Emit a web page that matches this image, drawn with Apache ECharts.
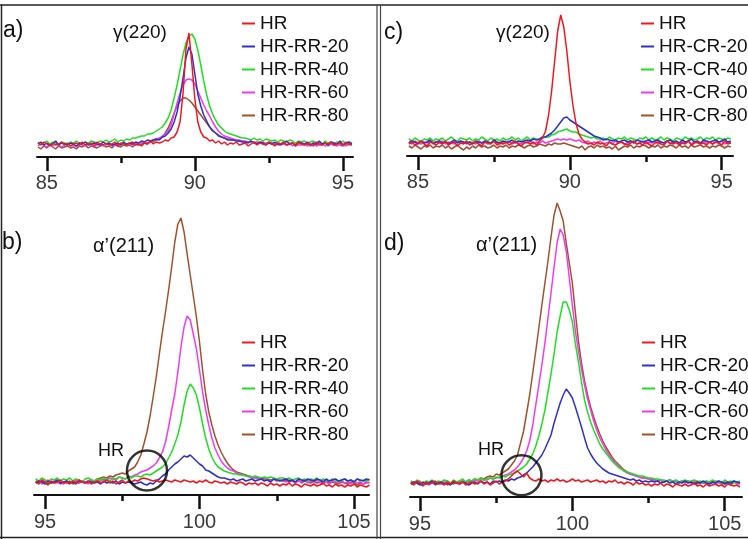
<!DOCTYPE html>
<html>
<head>
<meta charset="utf-8">
<script src="https://cdn.jsdelivr.net/npm/echarts@6/dist/echarts.min.js"></script>
<style>html,body{margin:0;padding:0;background:#fff}#c{width:748px;height:539px}</style>
</head>
<body>
<div id="c"></div>
<script>
// ---- x positions (2theta, degrees) ----
const xTop = [84.7,84.8,84.9,85.0,85.1,85.2,85.3,85.4,85.5,85.6,85.7,85.8,85.9,86.0,86.1,86.2,86.3,86.4,86.5,86.6,86.7,86.8,86.9,87.0,87.1,87.2,87.3,87.4,87.5,87.6,87.7,87.8,87.9,88.0,88.1,88.2,88.3,88.4,88.5,88.6,88.7,88.8,88.9,89.0,89.1,89.2,89.3,89.4,89.5,89.6,89.7,89.8,89.9,90.0,90.1,90.2,90.3,90.4,90.5,90.6,90.7,90.8,90.9,91.0,91.1,91.2,91.3,91.4,91.5,91.6,91.7,91.8,91.9,92.0,92.1,92.2,92.3,92.4,92.5,92.6,92.7,92.8,92.9,93.0,93.1,93.2,93.3,93.4,93.5,93.6,93.7,93.8,93.9,94.0,94.1,94.2,94.3,94.4,94.5,94.6,94.7,94.8,94.9,95.0,95.1,95.2,95.3];
const xBottom = [94.7,94.8,94.9,95.0,95.1,95.2,95.3,95.4,95.5,95.6,95.7,95.8,95.9,96.0,96.1,96.2,96.3,96.4,96.5,96.6,96.7,96.8,96.9,97.0,97.1,97.2,97.3,97.4,97.5,97.6,97.7,97.8,97.9,98.0,98.1,98.2,98.3,98.4,98.5,98.6,98.7,98.8,98.9,99.0,99.1,99.2,99.3,99.4,99.5,99.6,99.7,99.8,99.9,100.0,100.1,100.2,100.3,100.4,100.5,100.6,100.7,100.8,100.9,101.0,101.1,101.2,101.3,101.4,101.5,101.6,101.7,101.8,101.9,102.0,102.1,102.2,102.3,102.4,102.5,102.6,102.7,102.8,102.9,103.0,103.1,103.2,103.3,103.4,103.5,103.6,103.7,103.8,103.9,104.0,104.1,104.2,104.3,104.4,104.5,104.6,104.7,104.8,104.9,105.0,105.1,105.2,105.3,105.4,105.5];

// ---- tick labels ----
const ticksTop = [85, 90, 95];
const minorTop = [87.5, 92.5];
const ticksBottom = [95, 100, 105];
const minorBottom = [97.5, 102.5];

// ---- series names ----
const namesRR = ['HR', 'HR-RR-20', 'HR-RR-40', 'HR-RR-60', 'HR-RR-80'];
const namesCR = ['HR', 'HR-CR-20', 'HR-CR-40', 'HR-CR-60', 'HR-CR-80'];

// ---- panel a: gamma(220), HR-RR ----
const aHR = [14,12,15,13,11,14,12,13,15,12, 14,11,13,14,12,15,12,13,14,11, 15,13,12,14,12,13,15,11,14,13, 12,14,15,12,13,11,14,13,16,13, 15,14,15,17,16,19,20,25,35,63, 108,124,93,58,35,25,20,19,16,17, 14,16,13,15,12,14,13,15,12,13, 14,11,13,15,12,14,13,12,15,13, 11,14,13,15,12,13,14,11,15,13, 12,14,13,11,15,13,12,14,13,15, 12,13,14,12,15,13,12];
const aRR20 = [13,15,12,14,12,13,16,12,14,13, 12,14,13,11,14,13,15,12,13,14, 13,12,15,13,14,12,13,14,12,15, 13,14,13,15,14,16,15,17,16,17, 18,17,20,21,24,28,35,45,60,79, 99,110,103,83,63,51,42,36,30,26, 24,21,20,19,17,17,17,16,16,15, 15,14,16,14,13,15,14,12,14,13, 15,13,12,14,16,13,14,12,15,14, 13,15,12,14,13,16,13,14,12,15, 14,13,16,12,14,15,13];
const aRR40 = [15,13,14,16,13,15,14,12,15,14, 13,15,14,16,14,13,15,14,16,15, 14,16,15,17,15,16,18,15,17,16, 18,17,19,19,20,21,21,23,23,24, 26,28,30,34,39,47,59,72,87,102, 114,121,123,118,107,92,76,62,51,43, 37,32,29,26,24,23,22,21,20,19, 19,18,17,19,17,18,16,18,17,16, 17,15,17,16,15,17,16,14,16,15, 16,14,15,16,14,15,13,16,14,15, 13,15,14,16,13,15,14];
const aRR60 = [11,13,12,10,12,11,13,12,10,12, 13,11,12,10,13,12,11,13,12,10, 12,13,11,12,14,11,12,13,12,14, 12,13,12,14,13,15,15,14,16,17, 18,19,21,23,26,32,43,54,64,72, 77,78,77,73,66,59,52,46,41,35, 30,26,23,21,20,19,18,17,17,16, 16,15,15,15,14,15,13,14,14,13, 14,12,13,13,12,14,11,13,12,12, 13,11,12,13,11,12,13,11,12,13, 12,11,13,12,11,13,12];
const aRR80 = [10,8,11,9,12,10,8,11,9,10, 11,9,10,8,11,10,12,9,11,10, 9,11,12,10,11,9,12,11,10,12, 11,12,10,13,12,13,14,13,15,15, 17,18,20,24,29,36,44,51,56,59, 59,57,54,50,46,42,38,34,30,27, 24,22,20,19,18,18,17,17,16,16, 15,15,16,14,15,14,15,13,15,14, 12,14,13,15,12,13,14,11,13,14, 12,13,11,14,12,13,12,14,11,13, 12,14,12,11,13,12,14];

// ---- panel c: gamma(220), HR-CR ----
const cHR = [12,14,11,13,15,12,10,14,13,11, 14,12,15,11,13,14,10,13,12,15, 11,13,14,12,10,14,13,12,15,11, 13,12,14,11,13,15,12,10,13,14, 12,14,11,15,18,25,41,65,95,125, 141,129,105,75,51,33,22,17,14,12, 13,11,14,12,13,10,14,12,11,13, 14,12,11,13,15,12,13,11,14,12, 10,13,14,12,11,15,13,12,14,11, 13,12,15,11,13,14,12,13,11,14, 12,14,13,11,15,12,13];
const cCR20 = [13,15,14,12,15,13,14,16,13,14, 15,13,14,12,14,16,13,15,14,13, 14,12,15,14,13,15,14,13,16,14, 13,15,14,14,16,13,15,14,15,16, 15,17,16,17,19,19,21,23,26,30, 34,38,39,36,34,32,30,28,26,24, 22,20,19,18,16,17,16,15,16,14, 15,16,14,15,13,16,15,14,15,16, 14,15,16,14,13,15,16,14,15,13, 16,14,15,17,14,15,13,16,15,14, 15,16,14,15,17,14,15];
const cCR40 = [17,15,18,16,14,17,16,18,15,17, 16,18,15,17,19,16,15,18,17,16, 18,15,17,16,19,17,15,18,16,17, 15,18,16,17,19,16,18,15,17,19, 16,18,17,16,18,19,19,21,22,24, 25,26,27,25,24,24,22,21,20,19, 18,19,17,17,18,16,19,17,16,18, 17,19,16,18,17,15,18,17,19,16, 18,16,17,19,16,18,17,15,18,17, 16,19,17,18,16,17,19,16,18,17, 19,16,18,17,16,18,17];
const cCR60 = [14,12,15,13,12,14,13,15,12,14, 13,15,12,14,13,12,15,13,14,12, 14,13,12,15,13,14,12,13,15,13, 12,14,13,15,12,14,13,12,14,13, 15,12,14,13,15,13,14,15,16,17, 16,17,16,17,16,15,16,14,13,15, 12,14,13,15,12,13,14,12,15,13, 14,12,13,15,14,12,13,15,12,14, 13,15,12,14,13,15,12,14,13,12, 14,13,15,12,14,13,12,15,13,14, 12,14,13,15,12,14,13];
const cCR80 = [10,8,11,9,7,10,9,11,8,10, 9,11,8,10,7,9,11,8,6,9, 7,10,8,11,9,10,8,9,11,8, 10,9,11,8,10,9,11,10,8,10, 11,9,10,12,11,10,12,11,13,12, 12,13,12,11,10,9,8,10,6,9, 10,8,11,9,10,8,9,7,10,6, 8,10,9,11,8,10,9,11,10,8, 10,9,11,8,10,9,11,10,8,11, 9,10,8,11,9,10,11,9,10,8, 10,9,11,10,8,10,9];

// ---- panel b: alpha'(211), HR-RR ----
const bHR = [14,12,15,13,11,14,12,13,15,12, 13,11,14,12,15,13,12,14,11,13, 14,12,13,15,12,14,11,13,15,12, 14,13,15,14,16,17,16,15,14,15, 13,14,15,14,13,15,14,13,15,14, 13,14,12,14,13,15,13,12,14,13, 12,13,11,13,12,11,13,12,10,12, 11,12,10,12,11,9,12,10,11,9, 11,10,12,9,11,10,8,11,10,9, 11,9,10,12,9,10,8,11,9,10, 8,10,9,11,8,10,9,8,10];
const bRR20 = [12,14,13,11,14,12,13,15,12,13, 14,12,13,11,14,13,12,14,13,12, 13,11,14,12,13,12,14,11,13,12, 13,12,11,12,13,11,10,12,11,14, 16,19,21,25,28,31,33,36,39,38, 40,37,34,31,29,25,24,22,20,18, 17,17,16,15,16,14,15,16,14,15, 16,14,15,16,14,15,13,16,15,14, 15,16,14,15,13,16,15,14,16,15, 14,16,15,13,16,14,15,16,14,15, 16,14,15,13,16,15,14,16,15];
const bRR40 = [16,14,17,15,13,16,15,17,14,16, 15,17,14,16,15,13,16,17,15,14, 16,15,17,16,14,17,16,18,17,16, 18,17,19,19,18,20,21,20,22,24, 26,28,31,37,43,51,60,73,90,104, 111,107,100,87,71,57,46,38,32,28, 26,24,23,22,21,21,20,20,19,19, 18,19,18,17,18,17,18,17,16,17, 17,16,17,15,16,17,15,16,14,16, 15,17,14,16,15,14,16,15,13,15, 16,14,15,13,16,14,15,14,16];
const bRR60 = [12,14,11,13,15,12,14,12,13,11, 14,12,13,15,12,14,13,11,14,13, 15,14,16,15,17,16,15,18,17,16, 19,18,20,21,23,24,25,27,29,32, 37,43,53,68,85,101,123,148,168,179, 175,161,146,125,103,85,70,57,47,40, 34,30,27,25,24,22,21,20,19,18, 17,17,16,16,15,15,14,16,14,15, 14,13,15,14,12,14,13,15,12,14, 13,15,12,14,13,11,14,13,12,14, 12,13,11,14,12,13,11,12,13];
const bRR80 = [13,11,14,12,10,13,12,14,11,13, 12,14,11,13,12,14,13,12,15,14, 16,17,18,17,19,18,20,21,22,21, 24,26,28,33,40,51,63,79,98,118, 141,163,183,205,228,253,271,277,263,241, 220,199,178,153,125,101,83,70,59,50, 43,37,32,28,25,23,22,21,20,19, 18,18,17,17,16,16,15,16,15,15, 14,15,13,14,13,15,12,14,13,12, 14,12,13,11,14,12,13,12,11,13, 12,11,13,12,10,12,11,13,12];

// ---- panel d: alpha'(211), HR-CR ----
const dHR = [15,13,16,14,12,15,13,14,16,13, 14,12,15,13,16,14,13,15,12,14, 15,13,14,16,13,15,12,14,16,13, 15,16,18,21,24,26,23,20,24,19, 17,16,18,16,17,15,17,16,18,16, 17,15,16,18,16,17,15,16,17,15, 16,17,15,16,14,16,15,17,14,15, 13,15,14,12,15,13,14,12,13,11, 13,12,14,11,13,12,10,13,12,11, 13,11,12,14,11,12,10,13,11,12, 13,11,12,10,13,12,11,12,10];
const dCR20 = [13,15,14,12,15,13,14,16,13,14, 15,13,14,12,15,14,13,15,14,12, 14,15,13,16,14,15,13,16,15,16, 15,17,16,18,17,19,20,22,24,27, 30,34,38,42,48,55,62,74,84,94, 102,108,104,99,90,80,70,59,49,43, 38,34,31,28,26,24,23,22,21,20, 19,18,17,18,16,17,15,16,15,16, 15,16,14,15,16,14,15,13,15,14, 16,14,15,13,15,14,16,14,13,15, 14,16,15,13,15,14,16,15,14];
const dCR40 = [16,14,17,15,13,16,15,17,14,16, 15,17,16,14,17,15,16,18,15,17, 16,18,17,19,17,18,19,18,20,19, 21,20,22,23,24,26,28,30,33,38, 43,51,61,73,87,105,123,143,165,181, 195,195,187,175,153,135,115,97,85,75, 67,60,53,48,44,40,36,33,30,28, 26,25,24,23,22,21,21,20,19,19, 18,18,17,17,16,17,16,17,15,16, 17,15,16,17,15,16,14,16,15,17, 15,16,14,17,15,16,14,15,16];
const dCR60 = [13,15,14,16,13,14,12,15,14,13, 15,14,16,13,15,14,16,15,14,16, 15,17,16,18,17,17,19,18,19,20, 21,22,23,25,27,30,34,39,46,56, 72,92,112,132,154,179,204,230,254,268, 262,246,219,192,166,146,128,112,98,87, 76,67,59,53,47,42,38,34,31,29, 26,24,23,22,21,20,19,19,18,17, 17,16,17,15,16,17,15,16,14,16, 15,16,14,15,16,14,15,13,15,14, 16,14,15,13,15,14,16,13,15];
const dCR80 = [14,12,15,13,11,14,13,15,12,14, 13,15,12,14,13,15,14,16,15,17, 16,18,17,19,18,20,21,20,23,22, 24,26,28,32,36,42,54,66,84,102, 124,146,169,192,214,236,260,282,294,286, 276,254,234,214,184,156,134,116,102,90, 80,71,63,56,50,45,40,36,33,30, 27,25,23,22,21,20,19,19,18,18, 17,16,17,15,16,17,15,16,14,16, 15,16,14,15,13,15,14,16,13,15, 14,15,13,15,14,12,15,14,13];

// ---- annotation circles (centre, in data units) ----
const circleB = [98.30, 24.5];
const circleD = [98.33, 21.7];

const colors = ['#f01820', '#2e30cc', '#22dd22', '#ee3cee', '#a0522d'];
const FONT = "'Liberation Sans', Arial, sans-serif";
const NARROW = "'Liberation Sans Narrow', 'Liberation Sans', Arial, sans-serif";

function pairs(xs, ys) { return ys.map((y, i) => [xs[i], y]); }

const grids = [
  {left: 37, top: 7, width: 316, height: 150},    // a
  {left: 34, top: 195, width: 335, height: 300},  // b
  {left: 407, top: 7, width: 326, height: 149},   // c
  {left: 410, top: 195, width: 332, height: 302}  // d
];
const ranges = [[84.67, 95.34], [94.644, 105.485], [84.638, 95.372], [94.672, 105.568]];
const yMax = [150, 300, 149, 302];
const majors = [ticksTop, ticksBottom, ticksTop, ticksBottom];
const minors = [minorTop, minorBottom, minorTop, minorBottom];
const marg = [16, 17, 16, 17];

const xAxis = [];
const yAxis = [];
grids.forEach((g, i) => {
  xAxis.push({
    type: 'value', gridIndex: i, position: 'bottom', offset: 0, min: ranges[i][0], max: ranges[i][1],
    axisLine: {show: true, onZero: false, lineStyle: {color: '#111', width: 2}},
    axisTick: {show: true, length: 14, customValues: majors[i], lineStyle: {color: '#111', width: 2.5}},
    axisLabel: {show: true, customValues: majors[i], margin: marg[i], color: '#3a3a3a', fontSize: 20, fontFamily: NARROW},
    splitLine: {show: false}
  });
  xAxis.push({
    type: 'value', gridIndex: i, position: 'bottom', offset: 0, min: ranges[i][0], max: ranges[i][1],
    axisLine: {show: false, onZero: false},
    axisTick: {show: true, length: 6, customValues: minors[i], lineStyle: {color: '#111', width: 2.5}},
    axisLabel: {show: false},
    splitLine: {show: false}
  });
  yAxis.push({type: 'value', gridIndex: i, min: 0, max: yMax[i], show: false});
});

const panels = [
  {g: 0, xs: xTop, names: namesRR, ys: [aHR, aRR20, aRR40, aRR60, aRR80]},
  {g: 1, xs: xBottom, names: namesRR, ys: [bHR, bRR20, bRR40, bRR60, bRR80]},
  {g: 2, xs: xTop, names: namesCR, ys: [cHR, cCR20, cCR40, cCR60, cCR80]},
  {g: 3, xs: xBottom, names: namesCR, ys: [dHR, dCR20, dCR40, dCR60, dCR80]}
];

const series = [];
panels.forEach(p => {
  for (let k = 4; k >= 0; k--) {
    series.push({
      type: 'line', name: p.names[k], xAxisIndex: p.g * 2, yAxisIndex: p.g,
      data: pairs(p.xs, p.ys[k]), showSymbol: false, symbol: 'none',
      color: colors[k], lineStyle: {color: colors[k], width: 1.5},
      animation: false, silent: true, z: 2
    });
  }
});
series.push({
  type: 'scatter', xAxisIndex: 2, yAxisIndex: 1, data: [circleB], symbol: 'circle', symbolSize: 40,
  itemStyle: {color: 'rgba(0,0,0,0)', borderColor: '#000', borderWidth: 2.5}, silent: true, z: 5
});
series.push({
  type: 'scatter', xAxisIndex: 6, yAxisIndex: 3, data: [circleD], symbol: 'circle', symbolSize: 40,
  itemStyle: {color: 'rgba(0,0,0,0)', borderColor: '#000', borderWidth: 2.5}, silent: true, z: 5
});

function legend(left, top, names) {
  return {
    orient: 'vertical', left: left, top: top, data: names, icon: 'rect',
    itemWidth: 13, itemHeight: 2, itemGap: 4, selectedMode: false,
    textStyle: {fontSize: 19, fontFamily: FONT, color: '#111', lineHeight: 19}
  };
}

function txt(x, y, s, size) {
  return {type: 'text', x: x, y: y, silent: true,
    style: {text: s, fontSize: size, fontFamily: FONT, fill: '#111', verticalAlign: 'middle'}};
}
function ln(x1, y1, x2, y2, w, c) {
  return {type: 'line', silent: true, shape: {x1: x1, y1: y1, x2: x2, y2: y2}, style: {stroke: c, lineWidth: w}};
}

const option = {
  animation: false,
  backgroundColor: '#fff',
  grid: grids,
  xAxis: xAxis,
  yAxis: yAxis,
  legend: [
    legend(237, 9, namesRR),
    legend(237, 328, namesRR),
    legend(636, 9, namesCR),
    legend(637, 328, namesCR)
  ],
  series: series,
  graphic: [
    ln(0, 5, 748, 5, 1.5, '#222'),
    ln(1.5, 5, 1.5, 539, 1.5, '#222'),
    ln(0, 537.5, 748, 537.5, 1.5, '#222'),
    ln(377, 5, 377, 539, 1.2, '#444'),
    ln(380.5, 5, 380.5, 539, 1.2, '#444'),
    txt(3, 31, 'a)', 23),
    txt(113, 33, 'γ(220)', 19),
    txt(384, 33, 'c)', 23),
    txt(496, 33, 'γ(220)', 19),
    txt(2, 243, 'b)', 23),
    txt(93, 246, 'α’(211)', 20),
    txt(384, 244, 'd)', 23),
    txt(476, 245, 'α’(211)', 20),
    txt(98, 451, 'HR', 18),
    txt(478, 450, 'HR', 18)
  ]
};

const chart = echarts.init(document.getElementById('c'), null, {renderer: 'canvas'});
chart.setOption(option);
</script>
</body>
</html>
